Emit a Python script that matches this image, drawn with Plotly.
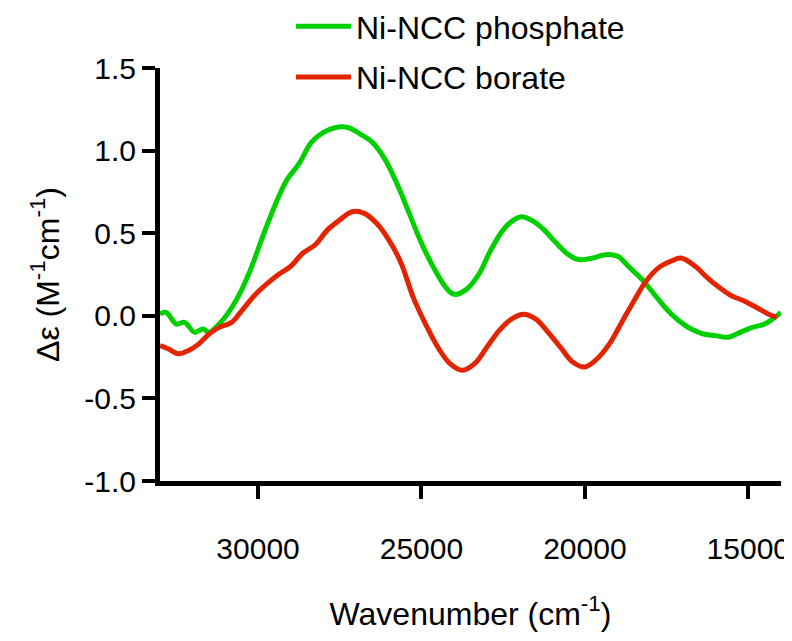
import plotly.graph_objects as go

# Wavenumber (cm-1) and Δε values
phosphate_wn = [33000, 32810, 32500, 32250, 31940, 31690, 31500, 31190, 30940, 30625,
                30250, 29875, 29500, 29125, 28750, 28370, 28000, 27625, 27250, 26875,
                26500, 26125, 25750, 25375, 25000, 24625, 24250, 24000, 23625, 23250,
                22875, 22500, 22250, 21940, 21560, 21250, 20875, 20500, 20190, 19750,
                19375, 19000, 18625, 18250, 17875, 17500, 17125, 16750, 16375, 16000,
                15625, 15250, 14875, 14500, 14000]
phosphate_de = [0.01, 0.02, -0.05, -0.04, -0.10, -0.08, -0.10, -0.05, 0.01, 0.11,
                0.27, 0.47, 0.66, 0.82, 0.92, 1.05, 1.11, 1.14, 1.14, 1.10,
                1.05, 0.95, 0.80, 0.62, 0.44, 0.29, 0.17, 0.13, 0.16, 0.25,
                0.40, 0.52, 0.57, 0.60, 0.57, 0.52, 0.44, 0.37, 0.34, 0.35,
                0.37, 0.36, 0.29, 0.22, 0.13, 0.04, -0.03, -0.08, -0.11, -0.12,
                -0.13, -0.10, -0.07, -0.05, 0.02]

borate_wn = [33000, 32750, 32440, 32125, 31810, 31500, 31190, 30810, 30500, 30125,
             29750, 29375, 29000, 28625, 28250, 27875, 27500, 27125, 26750, 26375,
             26000, 25625, 25250, 24875, 24500, 24125, 23750, 23375, 23000, 22625,
             22250, 21875, 21500, 21125, 20750, 20375, 20000, 19625, 19250, 18875,
             18500, 18125, 17750, 17375, 17060, 16625, 16250, 15875, 15500, 15125,
             14750, 14375, 14125]
borate_de = [-0.18, -0.20, -0.23, -0.21, -0.17, -0.11, -0.07, -0.04, 0.03, 0.12,
             0.19, 0.25, 0.30, 0.38, 0.43, 0.52, 0.58, 0.63, 0.62, 0.56,
             0.46, 0.32, 0.11, -0.05, -0.19, -0.29, -0.33, -0.29, -0.19, -0.09,
             -0.02, 0.01, -0.02, -0.10, -0.19, -0.28, -0.31, -0.26, -0.17, -0.04,
             0.09, 0.21, 0.29, 0.33, 0.35, 0.30, 0.23, 0.17, 0.12, 0.09,
             0.05, 0.01, -0.01]

x_ticks = [30000, 25000, 20000, 15000]
y_ticks = [-1.0, -0.5, 0.0, 0.5, 1.0, 1.5]
y_ticktext = ["-1.0", "-0.5", "0.0", "0.5", "1.0", "1.5"]

FONT = "Liberation Sans, Arial, sans-serif"

fig = go.Figure()
fig.add_trace(go.Scatter(x=phosphate_wn, y=phosphate_de, mode="lines",
                         name="Ni-NCC phosphate", legendgroup="a",
                         line=dict(color="#00d000", width=5, shape="spline")))
fig.add_trace(go.Scatter(x=borate_wn, y=borate_de, mode="lines",
                         name="Ni-NCC borate", legendgroup="b",
                         line=dict(color="#e32400", width=5, shape="spline")))

fig.update_layout(
    width=784, height=633,
    margin=dict(l=152, r=11, t=60, b=160, autoexpand=False),
    paper_bgcolor="white", plot_bgcolor="white",
    font=dict(family=FONT, size=30, color="black"),
    showlegend=True,
    legend=dict(x=131 / 621, y=1.167, xanchor="left", yanchor="top",
                xref="paper", yref="paper", itemwidth=55,
                font=dict(size=32), tracegroupgap=6, bgcolor="rgba(0,0,0,0)"),
)

fig.update_xaxes(range=[33000, 14000], tickvals=x_ticks, ticktext=[str(v) for v in x_ticks],
                 showline=True, linewidth=5, linecolor="black", showgrid=False, zeroline=False,
                 ticks="outside", ticklen=13, tickwidth=4, tickcolor="black",
                 ticklabelstandoff=24,
                 title=dict(text="Wavenumber (cm<sup>-1</sup>)", font=dict(size=32), standoff=40))
fig.update_yaxes(range=[-1.0, 1.5], tickvals=y_ticks, ticktext=y_ticktext,
                 showline=True, linewidth=5, linecolor="black", showgrid=False, zeroline=False,
                 ticks="outside", ticklen=13, tickwidth=4, tickcolor="black",
                 title=dict(text="Δε (M<sup>-1</sup>cm<sup>-1</sup>)", font=dict(size=32), standoff=17))

fig.write_html("out.html")
